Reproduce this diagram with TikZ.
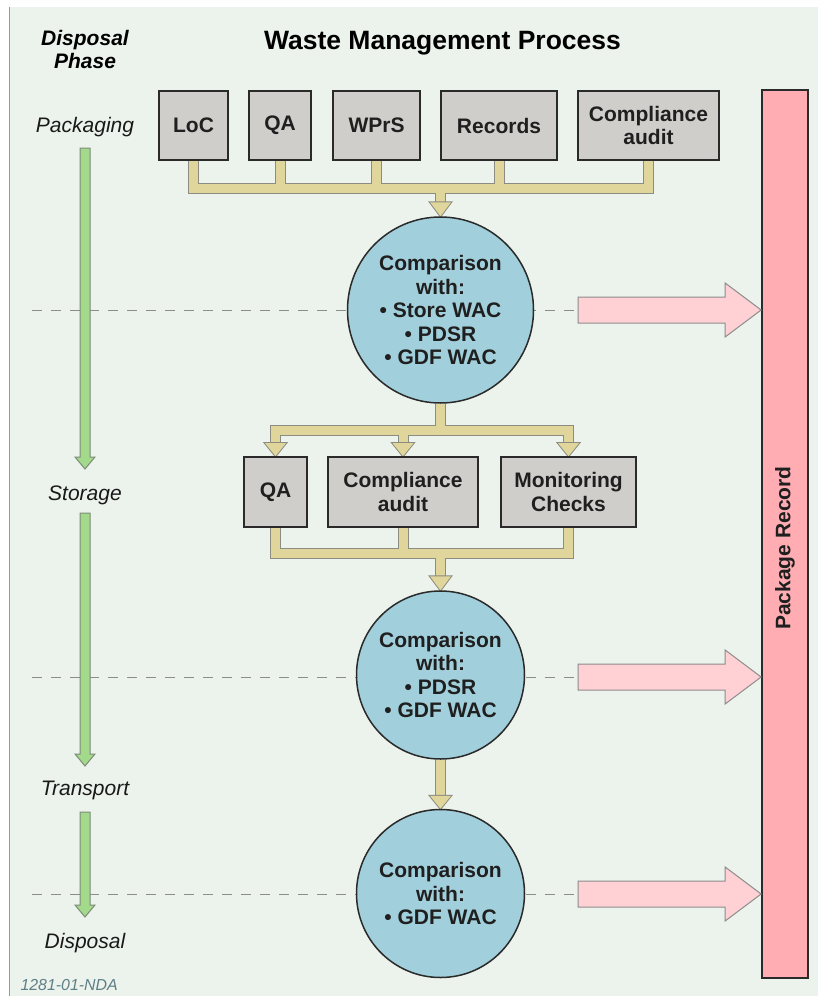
\documentclass[tikz,border=0pt]{standalone}
\usepackage{fontspec}
\setmainfont{Liberation Sans}
\usetikzlibrary{calc}
\pgfdeclarelayer{back}
\pgfsetlayers{back,main}
\definecolor{bgcol}{HTML}{ECF3EC}
\definecolor{boxfill}{HTML}{D0CECB}
\definecolor{pipefill}{HTML}{E0D59A}
\definecolor{pipeline}{HTML}{8C8C82}
\definecolor{circfill}{HTML}{A1CFDB}
\definecolor{greenfill}{HTML}{A2D98B}
\definecolor{greenline}{HTML}{7C8C78}
\definecolor{pinkfill}{HTML}{FFD0D4}
\definecolor{pinkline}{HTML}{8C8C8C}
\definecolor{recfill}{HTML}{FFADB2}
\definecolor{codecol}{HTML}{5F7F86}
\definecolor{darkline}{HTML}{2A2A2A}
\newcommand\headtri[3]{\path[#1] ($(#2)+(-10.5,-#3)$) -- (#2) -- ($(#2)+(10.5,-#3)$) -- cycle;}
\newcommand\greenarrow[2]{\path[greenarr] ($(#1)+(-5,0)$) -- ($(#2)+(-5,-12)$) -- ($(#2)+(-10,-12)$) -- (#2) -- ($(#2)+(10,-12)$) -- ($(#2)+(5,-12)$) -- ($(#1)+(5,0)$) -- cycle;}
\newcommand\pinkarrow[2]{\path[pinkarr] ($(#1)+(0,-13)$) -- ($(#2)+(-36,-13)$) -- ($(#2)+(-36,-27)$) -- (#2) -- ($(#2)+(-36,27)$) -- ($(#2)+(-36,13)$) -- ($(#1)+(0,13)$) -- cycle;}
\begin{document}
\begin{tikzpicture}[x=1pt,y=-1pt,
  boxnode/.style={draw=darkline, line width=1.8pt, fill=boxfill, inner sep=0pt, align=center,
    font=\fontsize{21}{23.5}\selectfont\bfseries, text=black!88},
  circnode/.style={circle, draw=darkline, line width=1.5pt, fill=circfill, inner sep=0pt, align=center,
    font=\fontsize{21}{23.5}\selectfont\bfseries, text=black!88},
  phase/.style={font=\fontsize{21}{23}\selectfont\itshape, anchor=base, text=black!90},
  pipeout/.style={draw=pipeline, line width=11pt, line join=miter},
  pipein/.style={draw=pipefill, line width=9pt, line join=miter},
  headout/.style={fill=pipeline, draw=pipeline, line width=2pt, line join=miter},
  headin/.style={fill=pipefill},
  greenarr/.style={fill=greenfill, draw=greenline, line width=1pt},
  pinkarr/.style={fill=pinkfill, draw=pinkline, line width=1pt},
  dashline/.style={draw=black!45, line width=0.9pt, dash pattern=on 10pt off 9pt}
]
\useasboundingbox (0,0) rectangle (818,996);

% titles and phase labels
\node[font=\fontsize{26.5}{30}\selectfont\bfseries, anchor=base] (title) at (442.5,49) {Waste Management Process};
\node[font=\fontsize{21}{23}\selectfont\bfseries\itshape, anchor=base, align=center] (dphase) at (85,68) {Disposal\\Phase};
\node[phase] (pack) at (85,132) {Packaging};
\node[phase] (stor) at (85,500) {Storage};
\node[phase] (trans) at (85,795) {Transport};
\node[phase] (disp) at (85,948) {Disposal};
\node[font=\fontsize{15.9}{18}\selectfont\itshape, text=codecol, anchor=base west] (code) at (17,990) {1281-01-NDA};

% top row boxes
\node[boxnode, minimum width=69, minimum height=69] (loc) at (193.5,125.5) {LoC};
\node[boxnode, minimum width=62, minimum height=69] (qa1) at (280,125.5) {QA};
\node[boxnode, minimum width=87, minimum height=69] (wprs) at (376.5,125.5) {WPrS};
\node[boxnode, minimum width=116, minimum height=69] (rec) at (499,125.5) {Records};
\node[boxnode, minimum width=141, minimum height=69] (ca1) at (648.5,125.5) {Compliance\\audit};

% second row boxes
\node[boxnode, minimum width=63, minimum height=70] (qa2) at (275.5,492) {QA};
\node[boxnode, minimum width=150, minimum height=70] (ca2) at (403,492) {Compliance\\audit};
\node[boxnode, minimum width=135, minimum height=70] (mc) at (568.5,492) {Monitoring\\Checks};

% circles
\node[circnode, minimum size=186] (c1) at (440.5,310) {Comparison\\with:\\\textbullet\ Store WAC\\\textbullet\ PDSR\\\textbullet\ GDF WAC};
\node[circnode, minimum size=168] (c2) at (440.5,675) {Comparison\\with:\\\textbullet\ PDSR\\\textbullet\ GDF WAC};
\node[circnode, minimum size=168] (c3) at (440.5,893.5) {Comparison\\with:\\\textbullet\ GDF WAC};

% package record
\node[draw=darkline, line width=1.8pt, fill=recfill, minimum width=46, minimum height=888, inner sep=0pt] (prec) at (785,534) {};
\node[rotate=90, font=\fontsize{21}{23.5}\selectfont\bfseries, text=black!88] (preclabel) at (785,548) {Package Record};

% coordinates
\coordinate (hb1) at (0,188);
\coordinate (hb2) at (0,430);
\coordinate (hb3) at (0,553);
\coordinate (d1) at (32,310);
\coordinate (d2) at (32,677);
\coordinate (d3) at (32,894);
\coordinate (p1s) at (578,310);
\coordinate (p2s) at (578,677);
\coordinate (p3s) at (578,894);
\coordinate (p1e) at (prec.west |- p1s);
\coordinate (p2e) at (prec.west |- p2s);
\coordinate (p3e) at (prec.west |- p3s);
\coordinate (g1s) at (85,148);
\coordinate (g1e) at (85,469);
\coordinate (g2s) at (85,513);
\coordinate (g2e) at (85,766);
\coordinate (g3s) at (85,812);
\coordinate (g3e) at (85,917);

\begin{pgfonlayer}{back}
  \fill[white] (0,0) rectangle (818,996);
  \fill[bgcol] (9,7) rectangle (818,996);
  \draw[black!40, line width=1pt] (9,7) -- (9,996);
  \draw[dashline] (d1) -- (p1s);
  \draw[dashline] (d2) -- (p2s);
  \draw[dashline] (d3) -- (p3s);
  \foreach \st in {pipeout,pipein}{
    \draw[\st] (loc.south) -- (loc.south |- hb1) -- (ca1.south |- hb1) -- (ca1.south);
    \draw[\st] (qa1.south) -- (qa1.south |- hb1);
    \draw[\st] (wprs.south) -- (wprs.south |- hb1);
    \draw[\st] (rec.south) -- (rec.south |- hb1);
    \draw[\st] (c1.north |- hb1) -- ($(c1.north)+(0,-14)$);
    \draw[\st] (c1.south) -- (c1.south |- hb2);
    \draw[\st] ($(qa2.north)+(0,-13)$) -- (qa2.north |- hb2) -- (mc.north |- hb2) -- ($(mc.north)+(0,-13)$);
    \draw[\st] (ca2.north |- hb2) -- ($(ca2.north)+(0,-13)$);
    \draw[\st] (qa2.south) -- (qa2.south |- hb3) -- (mc.south |- hb3) -- (mc.south);
    \draw[\st] (ca2.south) -- (ca2.south |- hb3);
    \draw[\st] (c2.north |- hb3) -- ($(c2.north)+(0,-14)$);
    \draw[\st] (c2.south) -- ($(c3.north)+(0,-13)$);
  }
  \foreach \st in {headout,headin}{
    \headtri{\st}{c1.north}{14}
    \headtri{\st}{qa2.north}{13}
    \headtri{\st}{ca2.north}{13}
    \headtri{\st}{mc.north}{13}
    \headtri{\st}{c2.north}{14}
    \headtri{\st}{c3.north}{13}
  }
\end{pgfonlayer}

% green phase arrows
\greenarrow{g1s}{g1e}
\greenarrow{g2s}{g2e}
\greenarrow{g3s}{g3e}

% pink arrows
\pinkarrow{p1s}{p1e}
\pinkarrow{p2s}{p2e}
\pinkarrow{p3s}{p3e}
\end{tikzpicture}
\end{document}
